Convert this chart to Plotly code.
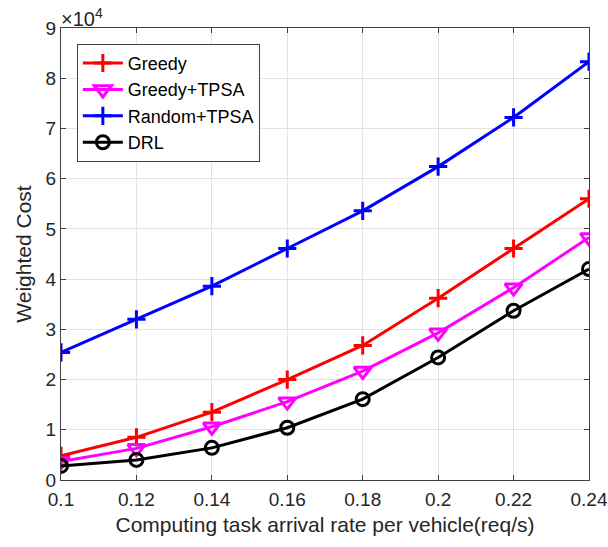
import plotly.graph_objects as go

x_rates = [0.10, 0.12, 0.14, 0.16, 0.18, 0.20, 0.22, 0.24]
greedy = [4800, 8500, 13500, 20000, 26800, 36200, 46100, 56000]
greedy_tpsa = [3700, 6300, 10600, 15600, 21700, 29300, 38300, 48300]
random_tpsa = [25400, 32000, 38600, 46100, 53600, 62400, 72200, 83300]
drl = [2800, 4000, 6400, 10400, 16100, 24400, 33700, 42000]
y_ticks = [0, 1, 2, 3, 4, 5, 6, 7, 8, 9]
x_ticks = [0.1, 0.12, 0.14, 0.16, 0.18, 0.2, 0.22, 0.24]
x_ticklabels = ["0.1", "0.12", "0.14", "0.16", "0.18", "0.2", "0.22", "0.24"]
SCALE = 1e4

series = [
    ("Greedy", greedy, "#ff0000", "cross-thin-open", 13),
    ("Greedy+TPSA", greedy_tpsa, "#ff00ff", "triangle-down-open", 15),
    ("Random+TPSA", random_tpsa, "#0000ff", "cross-thin-open", 13),
    ("DRL", drl, "#000000", "circle-open", 13),
]

fig = go.Figure()
for name, vals, color, sym, size in series:
    fig.add_trace(go.Scatter(
        x=x_rates, y=[v / SCALE for v in vals], name=name, mode="lines+markers",
        line=dict(color=color, width=3),
        marker=dict(symbol=sym, size=size, color=color, line=dict(color=color, width=3)),
    ))

font_family = "Liberation Sans, Arial, sans-serif"
axis_common = dict(
    showgrid=True, gridcolor="#e3e3e3", gridwidth=1,
    showline=True, linecolor="#404040", linewidth=1, mirror="ticks",
    ticks="inside", ticklen=5, tickcolor="#404040", tickwidth=1,
    zeroline=False, tickfont=dict(size=19, color="#262626", family=font_family),
)
fig.update_xaxes(range=[0.1, 0.24], tickvals=x_ticks, ticktext=x_ticklabels, automargin=False,
                 ticklabelstandoff=2,
                 title=dict(text="Computing task arrival rate per vehicle(req/s)",
                            font=dict(size=21, color="#262626", family=font_family), standoff=8),
                 **axis_common)
fig.update_yaxes(range=[0, 9], tickvals=y_ticks,
                 title=dict(text="Weighted Cost",
                            font=dict(size=21, color="#262626", family=font_family), standoff=8),
                 **axis_common)

fig.add_annotation(xref="paper", yref="paper", x=0, y=1, xanchor="left", yanchor="bottom",
                   text="×10<sup>4</sup>", showarrow=False, yshift=-4, xshift=-2,
                   font=dict(size=20, color="#262626", family=font_family))

fig.update_layout(
    width=608, height=547,
    margin=dict(l=61, r=19, t=28, b=67),
    plot_bgcolor="white", paper_bgcolor="white",
    font=dict(family=font_family, color="#262626"),
    legend=dict(x=0.03, y=0.965, xanchor="left", yanchor="top",
                bgcolor="white", bordercolor="#404040", borderwidth=1,
                font=dict(size=18, color="#000000", family=font_family),
                tracegroupgap=0, itemwidth=40),
    showlegend=True,
)

fig.write_html("out.html", config={"displayModeBar": False},
               post_script="document.body.style.margin='0px';document.body.style.padding='0px';")
